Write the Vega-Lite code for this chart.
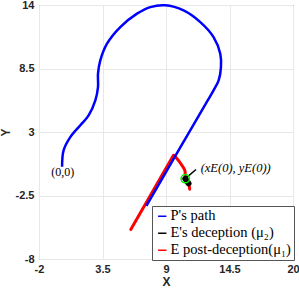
{
  "$schema": "https://vega.github.io/schema/vega-lite/v6.json",
  "width": 254,
  "height": 254,
  "autosize": "none",
  "padding": {"left": 39, "top": 5, "right": 6, "bottom": 31},
  "background": "white",
  "config": {
    "view": {"stroke": "#555555", "strokeWidth": 1},
    "axis": {
      "labelFont": "Liberation Sans", "labelFontWeight": "bold", "labelFontSize": 11, "labelColor": "#262626",
      "titleFont": "Liberation Sans", "titleFontWeight": "bold", "titleFontSize": 12, "titleColor": "#262626",
      "gridColor": "#e8e8e8", "gridWidth": 1, "domain": false, "ticks": false, "labelFlush": false
    }
  },
  "datasets": {
    "paths": [
      {"series": "E post-deception(μ₁)", "seg": "r1", "i": 1, "x": 9.65, "y": 0.98},
      {"series": "E post-deception(μ₁)", "seg": "r1", "i": 2, "x": 5.95, "y": -5.45},
      {"series": "E post-deception(μ₁)", "seg": "r2", "i": 1, "x": 9.7, "y": 0.98},
      {"series": "E post-deception(μ₁)", "seg": "r2", "i": 2, "x": 10.25, "y": 0.3},
      {"series": "E post-deception(μ₁)", "seg": "r2", "i": 3, "x": 10.62, "y": -0.3},
      {"series": "E post-deception(μ₁)", "seg": "r2", "i": 4, "x": 10.7, "y": -0.9},
      {"series": "E post-deception(μ₁)", "seg": "r2", "i": 5, "x": 10.85, "y": -1.3},
      {"series": "E post-deception(μ₁)", "seg": "r2", "i": 6, "x": 11.0, "y": -1.65},
      {"series": "E post-deception(μ₁)", "seg": "r2", "i": 7, "x": 11.05, "y": -1.95},
      {"series": "P's path", "seg": "p", "i": 1, "x": 0.0, "y": 0.0},
      {"series": "P's path", "seg": "p", "i": 2, "x": 0.13, "y": 1.41},
      {"series": "P's path", "seg": "p", "i": 3, "x": 0.71, "y": 2.56},
      {"series": "P's path", "seg": "p", "i": 4, "x": 1.58, "y": 3.58},
      {"series": "P's path", "seg": "p", "i": 5, "x": 2.3, "y": 4.44},
      {"series": "P's path", "seg": "p", "i": 6, "x": 2.88, "y": 5.74},
      {"series": "P's path", "seg": "p", "i": 7, "x": 3.11, "y": 6.89},
      {"series": "P's path", "seg": "p", "i": 8, "x": 3.11, "y": 8.05},
      {"series": "P's path", "seg": "p", "i": 9, "x": 3.31, "y": 9.2},
      {"series": "P's path", "seg": "p", "i": 10, "x": 3.89, "y": 10.65},
      {"series": "P's path", "seg": "p", "i": 11, "x": 5.04, "y": 12.09},
      {"series": "P's path", "seg": "p", "i": 12, "x": 6.49, "y": 13.25},
      {"series": "P's path", "seg": "p", "i": 13, "x": 7.64, "y": 13.82},
      {"series": "P's path", "seg": "p", "i": 14, "x": 8.94, "y": 13.97},
      {"series": "P's path", "seg": "p", "i": 15, "x": 10.52, "y": 13.53},
      {"series": "P's path", "seg": "p", "i": 16, "x": 11.97, "y": 12.52},
      {"series": "P's path", "seg": "p", "i": 17, "x": 13.12, "y": 11.22},
      {"series": "P's path", "seg": "p", "i": 18, "x": 13.7, "y": 9.78},
      {"series": "P's path", "seg": "p", "i": 19, "x": 13.76, "y": 8.62},
      {"series": "P's path", "seg": "p", "i": 20, "x": 13.56, "y": 7.47},
      {"series": "P's path", "seg": "p", "i": 21, "x": 13.12, "y": 6.61},
      {"series": "P's path", "seg": "p", "i": 22, "x": 12.5, "y": 5.55},
      {"series": "P's path", "seg": "p", "i": 23, "x": 10.2, "y": 1.6},
      {"series": "P's path", "seg": "p", "i": 24, "x": 7.3, "y": -3.4},
      {"series": "E's deception (μ₂)", "seg": "b", "i": 1, "x": 10.67, "y": -1.04},
      {"series": "E's deception (μ₂)", "seg": "b", "i": 2, "x": 10.95, "y": -1.45}
    ],
    "arrow": [
      {"i": 1, "x": 10.67, "y": -1.04},
      {"i": 2, "x": 11.6, "y": -0.25}
    ],
    "start": [{"x": 10.67, "y": -1.04}],
    "labels": [
      {"x": 0.06, "y": -0.45, "t": "(0,0)", "a": "center"},
      {"x": 12.0, "y": -0.15, "t": "(xE(0), yE(0))", "a": "left"}
    ]
  },
  "layer": [
    {
      "data": {"name": "paths"},
      "transform": [{"filter": "datum.series === 'E post-deception(μ₁)'"}],
      "mark": {"type": "line", "interpolate": "catmull-rom", "strokeWidth": 3, "strokeCap": "round", "clip": true},
      "encoding": {
        "x": {"field": "x", "type": "quantitative", "scale": {"domain": [-2, 20], "nice": false, "zero": false}, "axis": {"values": [-2, 3.5, 9, 14.5, 20], "labelExpr": "datum.value + ''", "labelPadding": 4, "titlePadding": 2, "title": "X"}},
        "y": {"field": "y", "type": "quantitative", "scale": {"domain": [-8, 14], "nice": false, "zero": false}, "axis": {"values": [-8, -2.5, 3, 8.5, 14], "labelExpr": "datum.value + ''", "labelPadding": 5, "titlePadding": 3, "title": "Y"}},
        "order": {"field": "i", "type": "quantitative"},
        "detail": {"field": "seg"},
        "color": {
          "field": "series", "type": "nominal",
          "scale": {"domain": ["P's path", "E's deception (μ₂)", "E post-deception(μ₁)"], "range": ["#0000ff", "#000000", "#ff0000"]},
          "legend": {
            "title": null, "orient": "none", "legendX": 113, "legendY": 201,
            "symbolType": "stroke", "symbolSize": 70, "symbolStrokeWidth": 1.5,
            "labelFont": "Liberation Serif", "labelFontSize": 14.5, "labelColor": "#000000", "labelOffset": 1,
            "rowPadding": 2, "padding": 3, "strokeColor": "#555555", "fillColor": "white", "cornerRadius": 0
          }
        }
      }
    },
    {
      "data": {"name": "paths"},
      "transform": [{"filter": "datum.series === \"P's path\""}],
      "mark": {"type": "line", "interpolate": "catmull-rom", "strokeWidth": 2.5},
      "encoding": {
        "x": {"field": "x", "type": "quantitative"},
        "y": {"field": "y", "type": "quantitative"},
        "order": {"field": "i", "type": "quantitative"},
        "color": {"field": "series", "type": "nominal"}
      }
    },
    {
      "data": {"name": "paths"},
      "transform": [{"filter": "datum.series === 'E\\'s deception (μ₂)'"}],
      "mark": {"type": "line", "strokeWidth": 6, "strokeCap": "round"},
      "encoding": {
        "x": {"field": "x", "type": "quantitative"},
        "y": {"field": "y", "type": "quantitative"},
        "order": {"field": "i", "type": "quantitative"},
        "color": {"field": "series", "type": "nominal"}
      }
    },
    {
      "data": {"name": "arrow"},
      "mark": {"type": "line", "color": "#000000", "strokeWidth": 1.5},
      "encoding": {
        "x": {"field": "x", "type": "quantitative"},
        "y": {"field": "y", "type": "quantitative"},
        "order": {"field": "i", "type": "quantitative"}
      }
    },
    {
      "data": {"name": "start"},
      "mark": {"type": "point", "shape": "circle", "filled": false, "color": "#00ee00", "size": 70, "strokeWidth": 1.5, "opacity": 1},
      "encoding": {
        "x": {"field": "x", "type": "quantitative"},
        "y": {"field": "y", "type": "quantitative"}
      }
    },
    {
      "data": {"name": "labels"},
      "transform": [{"filter": "datum.a === 'center'"}],
      "mark": {"type": "text", "font": "Liberation Serif", "fontSize": 12, "color": "#000000", "baseline": "middle", "align": "center"},
      "encoding": {
        "x": {"field": "x", "type": "quantitative"},
        "y": {"field": "y", "type": "quantitative"},
        "text": {"field": "t"}
      }
    },
    {
      "data": {"name": "labels"},
      "transform": [{"filter": "datum.a === 'left'"}],
      "mark": {"type": "text", "font": "Liberation Serif", "fontSize": 12.5, "fontStyle": "italic", "color": "#000000", "baseline": "middle", "align": "left"},
      "encoding": {
        "x": {"field": "x", "type": "quantitative"},
        "y": {"field": "y", "type": "quantitative"},
        "text": {"field": "t"}
      }
    }
  ]
}
